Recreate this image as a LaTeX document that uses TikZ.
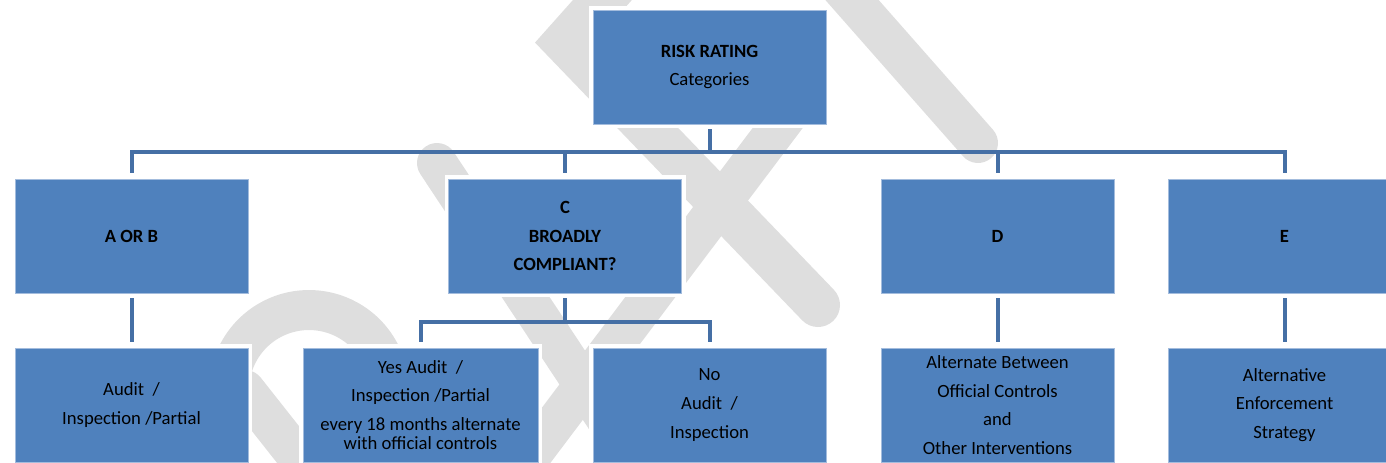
\documentclass[tikz,border=0pt]{standalone}
\usepackage{fontspec}
\setmainfont{Carlito}
\definecolor{boxblue}{HTML}{4F81BD}
\definecolor{boxedge}{HTML}{A3BCDD}
\definecolor{linkblue}{HTML}{456FA5}
\definecolor{wmgrey}{HTML}{DEDEDE}
\tikzset{px/.style={x=.75pt,y=-.75pt,font=\fontsize{14}{14.5}\selectfont},
  box/.style={fill=boxblue,draw=boxedge,line width=.6pt,minimum width=174.75pt,minimum height=85.5pt,align=center,inner sep=0pt,preaction={draw=white,line width=6pt}},
  link/.style={draw=linkblue,line width=3pt,shorten <=3.75pt,shorten >=4.5pt},
  wm/.style={draw=wmgrey,line width=30pt,line cap=round}}

\begin{document}
\begin{tikzpicture}[px]
  \useasboundingbox (0,0) rectangle (1386,462);
  \clip (0,0) rectangle (1386,462);
  % watermark strokes
  \draw[wm,line width=33pt,line join=miter] (622,-22) -- (565,42) -- (818,305);
  \draw[wm] (795,105) -- (520,470);
  \draw[wm] (437,163) -- (640,470);
  \draw[wm] (830,-25) -- (978,143);
  \draw[wm] (309,390) ++(160:80) arc[start angle=160,end angle=350,radius=80];
  \draw[wm] (245,390) -- (320,485);
  % boxes
  \node[box] (risk) at (709.5,67) {\textbf{RISK RATING}\\[7pt]Categories};
  \node[box] (ab) at (131.5,236) {\textbf{A OR B}};
  \node[box] (c) at (565,236) {\textbf{C}\\[7pt]\textbf{BROADLY}\\[7pt]\textbf{COMPLIANT?}};
  \node[box] (d) at (997.5,236) {\textbf{D}};
  \node[box] (e) at (1284.5,236) {\textbf{E}};
  \node[box] (abact) at (131.5,405) {Audit~ /\\[7pt]Inspection /Partial};
  \node[box,minimum width=176.25pt] (yes) at (420.5,405) {Yes Audit~ /\\[7pt]Inspection /Partial\\[7pt]every 18 months alternate\\with official controls};
  \node[box] (no) at (709.5,405) {No\\[7pt]Audit~ /\\[7pt]Inspection};
  \node[box] (dact) at (997.5,405) {Alternate Between\\[7pt]Official Controls\\[7pt]and\\[7pt]Other Interventions};
  \node[box] (eact) at (1284.5,405) {Alternative\\[7pt]Enforcement\\[7pt]Strategy};
  % connectors
  \foreach \n in {ab,c,d,e}{\draw[link] (risk.south) -- ++(0,28) -| (\n.north);}
  \foreach \n in {yes,no}{\draw[link] (c.south) -- ++(0,29) -| (\n.north);}
  \foreach \a/\b in {ab/abact,d/dact,e/eact}{\draw[link] (\a) -- (\b);}
\end{tikzpicture}
\end{document}
